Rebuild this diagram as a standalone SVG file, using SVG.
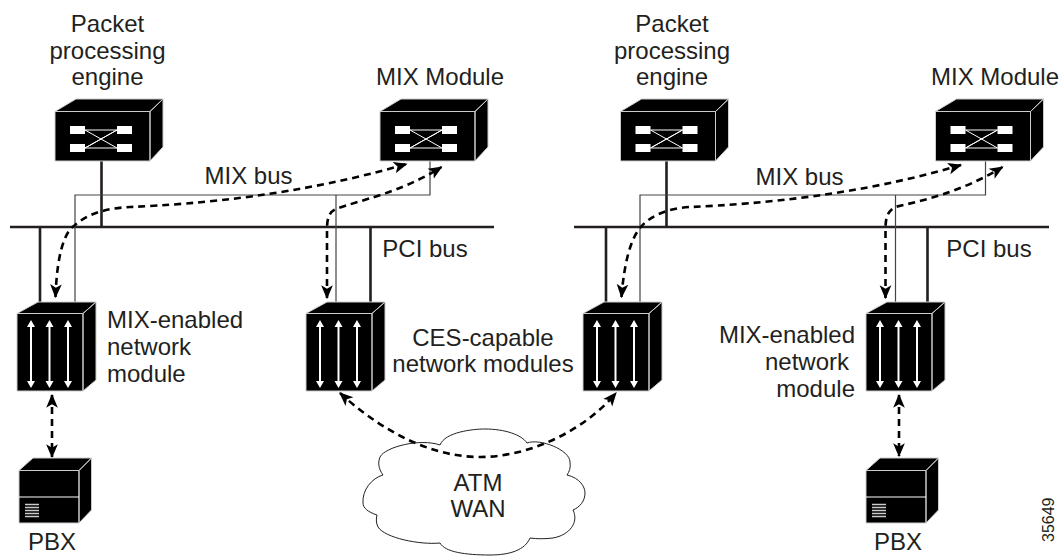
<svg xmlns="http://www.w3.org/2000/svg" width="1061" height="556" viewBox="0 0 1061 556">
<style>
text{font-family:"Liberation Sans",Arial,sans-serif;font-size:24px;fill:#231f20;text-anchor:middle}
.s{text-anchor:start}
.r{text-anchor:end}
.thick{stroke:#231f20;stroke-width:2.6;fill:none}
.thin{stroke:#444;stroke-width:1.2;fill:none}
.flow{stroke:#000;stroke-width:2.600;fill:none;stroke-dasharray:7 5}
.e{stroke:#ccc;stroke-width:1;fill:#000;stroke-linejoin:round}
.w{stroke:#fff;stroke-width:1;fill:none}
.a{stroke:#fff;stroke-width:2;fill:none}
</style>
<defs>
<marker id="ah" viewBox="0 0 12 12" refX="11" refY="6" markerWidth="14" markerHeight="14" markerUnits="userSpaceOnUse" orient="auto-start-reverse"><path d="M0 1L12 6L0 11L3 6Z" fill="#000"/></marker>
<g id="engine">
<path class="e" d="M55 111.500L76 99H163L150 111.500ZM150 111.500L163 99V147L150 161ZM55 111.500H150V161H55Z"/>
<path class="w" d="M85 130H117L85 148H117M85 148L117 130M85 130L117 148"/>
<g fill="#fff"><rect x="70" y="126" width="15" height="8"/><rect x="117" y="126" width="15" height="8"/><rect x="70" y="144" width="15" height="8"/><rect x="117" y="144" width="15" height="8"/></g>
</g>
<g id="module">
<path class="e" d="M17 313.500L38 302H96L83 313.500ZM83 313.500L96 302V380L83 391ZM17 313.500H83V391H17Z"/>
<g id="ar"><path class="a" d="M31 323V385"/><path fill="#fff" d="M31 320L35 327H27ZM31 388L35 381H27Z"/></g>
<use href="#ar" x="18.500"/><use href="#ar" x="37"/>
</g>
<g id="pbx">
<path class="e" d="M19 470.500L33 458H91.500L79 470.500ZM79 470.500L91.500 458V510L79 523ZM19 470.500H79V523H19Z"/>
<path class="w" d="M19 497H79"/>
<path d="M25 504.500H39M25 507.500H39M25 510.500H39M25 513.500H39M25 516.500H39" stroke="#ccc" stroke-width="1.300"/>
</g>
</defs>
<g id="connectors">
<path class="thick" d="M10 227H494M101.500 161V227M40 227V305M370.500 227V305"/>
<path class="thin" d="M75 305V195H430V161M336 195V305"/>
<path class="thick" d="M574 227H1049M666.500 161V227M606 227V305M927.500 227V305"/>
<path class="thin" d="M640 305V195H985.500V161M895.500 195V305"/>
<path class="flow" marker-start="url(#ah)" marker-end="url(#ah)" d="M55.500 297C57 255 64 232 75 225C90 212 110 208 130 207C200 204 300 195 406.500 164"/>
<path class="flow" marker-start="url(#ah)" marker-end="url(#ah)" d="M327 298V230C327 218 329 212 336 209C360 200 400 193 441.500 167"/>
<path class="flow" marker-start="url(#ah)" marker-end="url(#ah)" d="M621.500 297C624 265 630 240 640 228C650 215 670 208 690 207C760 204 860 195 961 165"/>
<path class="flow" marker-start="url(#ah)" marker-end="url(#ah)" d="M885.500 298V230C885.500 218 887 212 895 207C920 201 960 193 1002.500 167"/>
<path class="flow" marker-start="url(#ah)" marker-end="url(#ah)" d="M52 395V457"/>
<path class="flow" marker-start="url(#ah)" marker-end="url(#ah)" d="M899 395V456"/>
<path class="flow" marker-start="url(#ah)" marker-end="url(#ah)" d="M340 393C375 425 425 457 480 457C530 457 585 430 616 393"/>
</g>
<g id="engine-1"><use href="#engine"/><text x="107.500" y="32">Packet</text><text x="107.500" y="59">processing</text><text x="107.500" y="85">engine</text></g>
<g id="mix-1"><use href="#engine" x="325"/><text x="440" y="85">MIX Module</text></g>
<g id="engine-2"><use href="#engine" x="565.500"/><text x="672" y="32">Packet</text><text x="672" y="59">processing</text><text x="672" y="85">engine</text></g>
<g id="mix-2"><use href="#engine" x="880.500"/><text x="995" y="85">MIX Module</text></g>
<g id="module-1"><use href="#module"/><text class="s" x="107" y="328">MIX-enabled</text><text class="s" x="107" y="355">network</text><text class="s" x="107" y="382">module</text></g>
<g id="module-2"><use href="#module" x="289"/></g>
<g id="module-3"><use href="#module" x="566"/></g>
<g id="module-4"><use href="#module" x="849"/><text class="r" x="855" y="343">MIX-enabled</text><text class="r" x="849" y="370">network</text><text class="r" x="855" y="397">module</text></g>
<text x="483" y="346">CES-capable</text><text x="483" y="372">network modules</text>
<g id="pbx-1"><use href="#pbx"/><text x="52" y="550">PBX</text></g>
<g id="pbx-2"><use href="#pbx" x="847"/><text x="898" y="550">PBX</text></g>
<g id="cloud"><path d="M440 445C445 432 473 429 485 429C505 429 522 435 527 443C540 438 570 450 570 462C571 468 569 472 567 475C580 478 585 487 585 493C585 501 580 507 573 510C579 522 570 535 553 538C545 539 537 539 530 538C525 550 510 555 490 555C465 555 445 552 440 543C420 545 385 538 378 527C376 523 376 519 377 515C368 512 363 508 363 503C362 490 372 478 383 475C378 468 378 462 380 457C385 447 420 438 440 445Z" fill="none" stroke="#222" stroke-width="1"/><text x="478" y="491">ATM</text><text x="478" y="517">WAN</text></g>
<text x="248.500" y="184">MIX bus</text><text x="799.500" y="185">MIX bus</text>
<text x="425" y="257">PCI bus</text><text x="989" y="257">PCI bus</text>
<text transform="translate(1054 542) rotate(-90)" class="s" style="font-size:16px">35649</text>
</svg>
